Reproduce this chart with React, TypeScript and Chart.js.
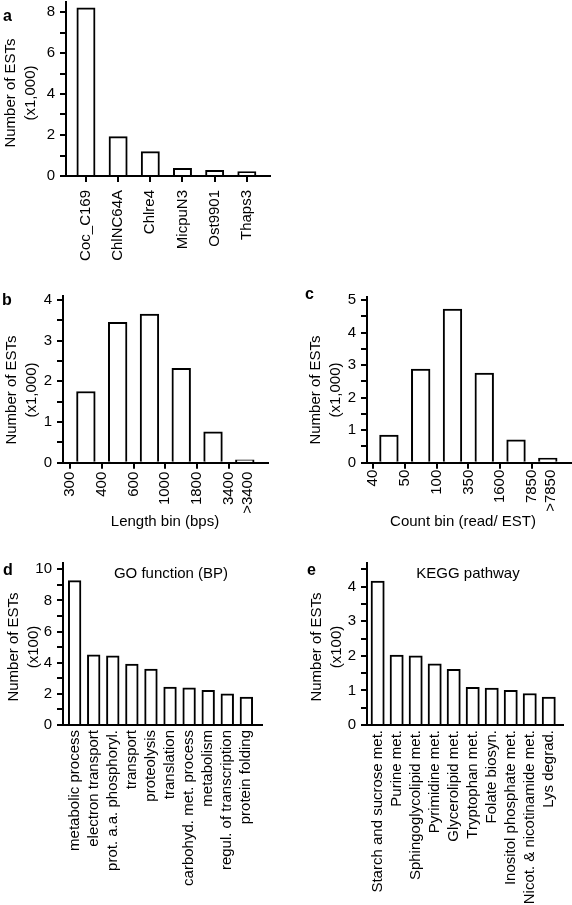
import React, { useEffect, useRef } from 'react';
import { Chart, registerables } from 'chart.js';

Chart.register(...registerables);

const FONT = '"Liberation Sans", Arial, Helvetica, sans-serif';

// ---- Panel a: ESTs per best-hit genome (x1,000)
const genomeLabels = ['Coc_C169', 'ChlNC64A', 'Chlre4', 'MicpuN3', 'Ost9901', 'Thaps3'];
const genomeCounts = [8.2, 1.92, 1.19, 0.37, 0.28, 0.21];

// ---- Panel b: length bins (x1,000)
const lengthBinLabels = ['300', '400', '600', '1000', '1800', '3400', '>3400'];
const lengthBinCounts = [1.75, 3.45, 3.65, 2.32, 0.76, 0.07];

// ---- Panel c: count bins (x1,000)
const countBinLabels = ['40', '50', '100', '350', '1600', '7850', '>7850'];
const countBinCounts = [0.85, 2.88, 4.72, 2.75, 0.7, 0.14];

// ---- Panel d: GO function (BP) (x100)
const goLabels = [
  'metabolic process',
  'electron transport',
  'prot. a.a. phosphoryl.',
  'transport',
  'proteolysis',
  'translation',
  'carbohyd. met. process',
  'metabolism',
  'regul. of transcription',
  'protein folding',
];
const goCounts = [9.27, 4.5, 4.45, 3.92, 3.6, 2.44, 2.38, 2.23, 2.01, 1.8];

// ---- Panel e: KEGG pathway (x100)
const keggLabels = [
  'Starch and sucrose met.',
  'Purine met.',
  'Sphingoglycolipid met.',
  'Pyrimidine met.',
  'Glycerolipid met.',
  'Tryptophan met.',
  'Folate biosyn.',
  'Inositol phosphate met.',
  'Nicot. & nicotinamide met.',
  'Lys degrad.',
];
const keggCounts = [4.16, 2.02, 2.0, 1.77, 1.61, 1.09, 1.07, 1.0, 0.91, 0.81];

const yTitleThousands = ['Number of ESTs', '(x1,000)'];
const yTitleHundreds = ['Number of ESTs', '(x100)'];

type PanelSpec = {
  left: number;
  top: number;
  width: number;
  height: number;
  padTop: number;
  padRight: number;
  yWidth: number;
  xHeight: number;
  yMax: number;
  yStep: number;
  yMajor: number;
  xMin: number;
  xMax: number;
  values: number[];
  labels: string[];
  binned: boolean; // labels mark bin edges, last label sits on the overflow bin
  xTicks: boolean;
  xPad: number;
  barThickness: number;
};

function buildChart(canvas: HTMLCanvasElement, p: PanelSpec) {
  const n = p.values.length;
  const points = p.values.map((v, i) => ({ x: p.binned ? i + 0.5 : i, y: v }));
  const tickPositions = p.binned
    ? p.labels.map((_, i) => (i < n ? i : n - 0.4))
    : p.labels.map((_, i) => i);
  const hiddenTick = p.binned ? p.labels.length - 1 : -1;

  return new Chart(canvas, {
    type: 'bar',
    data: {
      datasets: [
        {
          data: points as any,
          backgroundColor: '#ffffff',
          borderColor: '#000000',
          borderWidth: 2,
          barThickness: p.barThickness,
        },
      ],
    },
    options: {
      animation: false,
      responsive: false,
      devicePixelRatio: 1,
      events: [],
      layout: {
        autoPadding: false,
        padding: { left: 0, top: p.padTop, right: p.padRight, bottom: 0 },
      },
      plugins: {
        legend: { display: false },
        tooltip: { enabled: false },
        title: { display: false },
      },
      scales: {
        x: {
          type: 'linear',
          min: p.xMin,
          max: p.xMax,
          offset: false,
          grid: {
            offset: false,
            display: true,
            drawOnChartArea: false,
            drawTicks: p.xTicks,
            tickLength: 6,
            tickWidth: 2,
            tickColor: (ctx: any) => (ctx.index === hiddenTick ? 'rgba(0,0,0,0)' : '#000'),
            color: '#000',
            lineWidth: 2,
          },
          border: { display: true, color: '#000', width: 2 },
          ticks: {
            autoSkip: false,
            includeBounds: false,
            minRotation: 90,
            maxRotation: 90,
            padding: p.xPad,
            color: '#000',
            font: { family: FONT, size: 15 },
            callback: (_v: any, i: number) => p.labels[i],
          },
          afterBuildTicks: (s: any) => {
            s.ticks = tickPositions.map((v) => ({ value: v }));
          },
          afterFit: (s: any) => {
            s.height = p.xHeight;
            s.paddingLeft = 0;
            s.paddingRight = 0;
          },
        } as any,
        y: {
          type: 'linear',
          min: 0,
          max: p.yMax,
          grid: {
            display: true,
            drawOnChartArea: false,
            drawTicks: true,
            tickLength: 6,
            tickWidth: 2,
            tickColor: '#000',
            color: '#000',
            lineWidth: 2,
          },
          border: { display: true, color: '#000', width: 2 },
          ticks: {
            autoSkip: false,
            includeBounds: false,
            stepSize: p.yStep,
            padding: 5,
            color: '#000',
            font: { family: FONT, size: 15 },
            callback: (v: any) => {
              const r = v / p.yMajor;
              return Math.abs(r - Math.round(r)) < 1e-6 ? String(Math.round(v * 1000) / 1000) : '';
            },
          },
          afterFit: (s: any) => {
            s.width = p.yWidth;
            s.paddingTop = 0;
            s.paddingBottom = 0;
          },
        } as any,
      },
    },
  } as any);
}

function Panel({ spec }: { spec: PanelSpec }) {
  const ref = useRef<HTMLCanvasElement | null>(null);
  useEffect(() => {
    if (!ref.current) return;
    const chart = buildChart(ref.current, spec);
    return () => chart.destroy();
  }, [spec]);
  return (
    <canvas
      ref={ref}
      width={spec.width}
      height={spec.height}
      style={{ position: 'absolute', left: spec.left, top: spec.top, width: spec.width, height: spec.height }}
    />
  );
}

function Txt({
  x,
  baseline,
  size = 15,
  bold = false,
  center = false,
  children,
}: {
  x: number;
  baseline: number;
  size?: number;
  bold?: boolean;
  center?: boolean;
  children: React.ReactNode;
}) {
  const lh = Math.round(size * 1.2);
  const top = baseline - (lh - 1.117 * size) / 2 - 0.905 * size;
  return (
    <div
      style={{
        position: 'absolute',
        left: x,
        top,
        fontFamily: FONT,
        fontSize: size,
        lineHeight: lh + 'px',
        fontWeight: bold ? 'bold' : 'normal',
        whiteSpace: 'nowrap',
        color: '#000',
        transform: center ? 'translateX(-50%)' : undefined,
      }}
    >
      {children}
    </div>
  );
}

function YTitle({ cx, cy, lines }: { cx: number; cy: number; lines: string[] }) {
  return (
    <div
      style={{
        position: 'absolute',
        left: cx,
        top: cy,
        transform: 'translate(-50%, -50%) rotate(-90deg)',
        fontFamily: FONT,
        fontSize: 15,
        lineHeight: '20px',
        textAlign: 'center',
        whiteSpace: 'nowrap',
        color: '#000',
      }}
    >
      {lines.map((l) => (
        <div key={l}>{l}</div>
      ))}
    </div>
  );
}

const panelA: PanelSpec = {
  left: 0, top: 0, width: 290, height: 272,
  padTop: 1.75, padRight: 20, yWidth: 66, xHeight: 96,
  yMax: 8.5, yStep: 1, yMajor: 2,
  xMin: -0.62, xMax: 5.72,
  values: genomeCounts, labels: genomeLabels, binned: false, xTicks: true, xPad: 8, barThickness: 18.3,
};
const panelB: PanelSpec = {
  left: 0, top: 282, width: 290, height: 253,
  padTop: 13.8, padRight: 22, yWidth: 63, xHeight: 72.3,
  yMax: 4.1, yStep: 0.5, yMajor: 1,
  xMin: -0.22, xMax: 6.23,
  values: lengthBinCounts, labels: lengthBinLabels, binned: true, xTicks: true, xPad: 3, barThickness: 18.7,
};
const panelC: PanelSpec = {
  left: 290, top: 282, width: 282, height: 253,
  padTop: 14.7, padRight: 1, yWidth: 77, xHeight: 72.3,
  yMax: 5.1, yStep: 0.5, yMajor: 1,
  xMin: -0.19, xMax: 6.23,
  values: countBinCounts, labels: countBinLabels, binned: true, xTicks: true, xPad: 1, barThickness: 18.7,
};
const panelD: PanelSpec = {
  left: 0, top: 545, width: 290, height: 360,
  padTop: 18.1, padRight: 28, yWidth: 63, xHeight: 180,
  yMax: 10.4, yStep: 1, yMajor: 2,
  xMin: -0.61, xMax: 9.82,
  values: goCounts, labels: goLabels, binned: false, xTicks: false, xPad: 5, barThickness: 12.7,
};
const panelE: PanelSpec = {
  left: 290, top: 545, width: 282, height: 360,
  padTop: 17.5, padRight: 9, yWidth: 77, xHeight: 180,
  yMax: 4.7, yStep: 0.5, yMajor: 1,
  xMin: -0.56, xMax: 9.75,
  values: keggCounts, labels: keggLabels, binned: false, xTicks: false, xPad: 5, barThickness: 13.3,
};

export default function App() {
  return (
    <div style={{ position: 'absolute', left: 0, top: 0, width: 572, height: 905, background: '#fff', overflow: 'hidden' }}>
      <Panel spec={panelA} />
      <Panel spec={panelB} />
      <Panel spec={panelC} />
      <Panel spec={panelD} />
      <Panel spec={panelE} />

      <Txt x={3} baseline={21} size={16} bold>a</Txt>
      <Txt x={2} baseline={305} size={16} bold>b</Txt>
      <Txt x={305} baseline={299.5} size={16} bold>c</Txt>
      <Txt x={3} baseline={575} size={16} bold>d</Txt>
      <Txt x={307} baseline={575} size={16} bold>e</Txt>

      <YTitle cx={20} cy={93} lines={yTitleThousands} />
      <YTitle cx={20.5} cy={390} lines={yTitleThousands} />
      <YTitle cx={325} cy={390} lines={yTitleThousands} />
      <YTitle cx={22.5} cy={647} lines={yTitleHundreds} />
      <YTitle cx={326} cy={647} lines={yTitleHundreds} />

      <Txt x={165} baseline={526} center>Length bin (bps)</Txt>
      <Txt x={463} baseline={526} center>Count bin (read/ EST)</Txt>
      <Txt x={171} baseline={578} center>GO function (BP)</Txt>
      <Txt x={468} baseline={578} center>KEGG pathway</Txt>
    </div>
  );
}
